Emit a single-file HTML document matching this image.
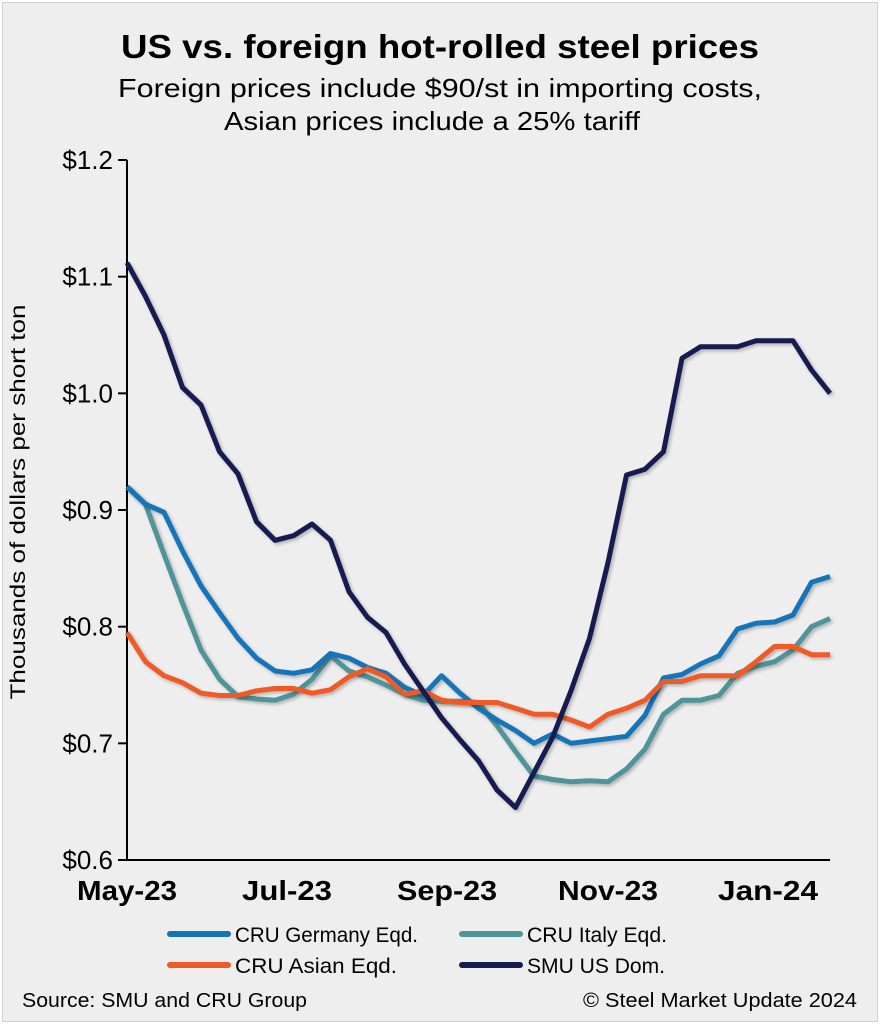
<!DOCTYPE html>
<html><head><meta charset="utf-8"><style>
html,body{margin:0;padding:0;background:#fff}
#wrap{position:absolute;left:2px;top:2px;width:874px;height:1018px;background:#eeeeee;border:1px solid #cfcfcf}
svg{position:absolute;left:0;top:0}
text{font-family:"Liberation Sans",Arial,sans-serif}
</style></head><body>
<div id="wrap"></div>
<svg id="chart" width="880" height="1024">
<defs><filter id="sh" x="-5%" y="-5%" width="110%" height="110%"><feDropShadow dx="2" dy="2" stdDeviation="1.5" flood-color="#000" flood-opacity="0.25"/></filter></defs>
<text x="440" y="58" text-anchor="middle" font-size="33" font-weight="bold" fill="#000" textLength="638" lengthAdjust="spacingAndGlyphs">US vs. foreign hot-rolled steel prices</text>
<text x="440" y="97" text-anchor="middle" font-size="26" fill="#000" textLength="644" lengthAdjust="spacingAndGlyphs">Foreign prices include $90/st in importing costs,</text>
<text x="432" y="130" text-anchor="middle" font-size="26" fill="#000" textLength="416" lengthAdjust="spacingAndGlyphs">Asian prices include a 25% tariff</text>
<text transform="translate(25,502) rotate(-90)" text-anchor="middle" font-size="21" fill="#000" textLength="395" lengthAdjust="spacingAndGlyphs">Thousands of dollars per short ton</text>
<g id="yaxis"></g><g id="xaxis"></g><g id="series"></g>
<g>
<line x1="170" y1="934" x2="228" y2="934" stroke="#1474b8" stroke-width="6" stroke-linecap="round"/>
<text x="235" y="942" font-size="21" textLength="183" lengthAdjust="spacingAndGlyphs">CRU Germany Eqd.</text>
<line x1="462" y1="934" x2="520" y2="934" stroke="#4f9499" stroke-width="6" stroke-linecap="round"/>
<text x="527" y="942" font-size="21" textLength="140" lengthAdjust="spacingAndGlyphs">CRU Italy Eqd.</text>
<line x1="170" y1="965" x2="228" y2="965" stroke="#f05a28" stroke-width="6" stroke-linecap="round"/>
<text x="235" y="973" font-size="21" textLength="162" lengthAdjust="spacingAndGlyphs">CRU Asian Eqd.</text>
<line x1="462" y1="965" x2="520" y2="965" stroke="#151c4f" stroke-width="6" stroke-linecap="round"/>
<text x="527" y="973" font-size="21" textLength="138" lengthAdjust="spacingAndGlyphs">SMU US Dom.</text>
</g>
<text x="22" y="1007" font-size="20" textLength="285" lengthAdjust="spacingAndGlyphs">Source: SMU and CRU Group</text>
<text x="857" y="1007" font-size="20" text-anchor="end" textLength="274" lengthAdjust="spacingAndGlyphs">© Steel Market Update 2024</text>
</svg>
<script>
const xTickLabels=["May-23","Jul-23","Sep-23","Nov-23","Jan-24"];
const xTickIndex=[0,8.65,17.3,26,34.65];
const yTicks=[0.6,0.7,0.8,0.9,1.0,1.1,1.2];
const yTickLabels=["$0.6","$0.7","$0.8","$0.9","$1.0","$1.1","$1.2"];
const germany=[0.92,0.905,0.898,0.865,0.835,0.812,0.79,0.773,0.762,0.76,0.763,0.777,0.773,0.765,0.76,0.748,0.741,0.758,0.743,0.73,0.72,0.711,0.70,0.708,0.70,0.702,0.704,0.706,0.724,0.756,0.759,0.768,0.775,0.798,0.803,0.804,0.81,0.838,0.843];
const italy=[0.92,0.905,0.862,0.82,0.78,0.755,0.74,0.738,0.737,0.742,0.755,0.775,0.762,0.757,0.75,0.742,0.737,0.736,0.736,0.735,0.715,0.693,0.672,0.669,0.667,0.668,0.667,0.678,0.695,0.725,0.737,0.737,0.741,0.76,0.766,0.77,0.78,0.80,0.807];
const asian=[0.795,0.77,0.758,0.752,0.743,0.741,0.741,0.745,0.747,0.747,0.743,0.746,0.757,0.764,0.757,0.742,0.745,0.737,0.735,0.735,0.735,0.73,0.725,0.725,0.72,0.714,0.725,0.73,0.737,0.753,0.753,0.758,0.758,0.758,0.77,0.783,0.783,0.776,0.776];
const smu=[1.112,1.083,1.05,1.005,0.99,0.95,0.931,0.89,0.874,0.878,0.888,0.874,0.83,0.808,0.795,0.768,0.745,0.722,0.703,0.685,0.66,0.645,0.675,0.705,0.745,0.79,0.855,0.93,0.935,0.95,1.03,1.04,1.04,1.04,1.045,1.045,1.045,1.02,1.0];
const xLabelWidths=[100,90,100,100,100];
const NS="http://www.w3.org/2000/svg";
const x0=127,x1=830,yTop=160,yBot=860,yMin=0.6,yMax=1.2;
const n=germany.length;
function xs(i){return x0+(x1-x0)*i/(n-1);}
function ys(v){return yBot-(v-yMin)/(yMax-yMin)*(yBot-yTop);}
function mk(tag,attrs,parent){const e=document.createElementNS(NS,tag);for(const k in attrs)e.setAttribute(k,attrs[k]);parent.appendChild(e);return e;}
const ya=document.getElementById('yaxis');
const yl=mk('line',{x1:x0,y1:yTop,x2:x0,y2:yBot,stroke:'#000','stroke-width':2},ya);


yTicks.forEach((t,k)=>{
  const tk=mk('line',{x1:x0-9,y1:ys(t),x2:x0,y2:ys(t),stroke:'#000','stroke-width':2},ya);
  
  
  const tx=mk('text',{x:113,y:ys(t)+9,'text-anchor':'end','font-size':26},ya);
  tx.textContent=yTickLabels[k];
  
  
});
const xa=document.getElementById('xaxis');
const xl=mk('line',{x1:x0,y1:yBot,x2:x1,y2:yBot,stroke:'#000','stroke-width':2},xa);


xTickLabels.forEach((l,k)=>{
  const tx=mk('text',{x:xs(xTickIndex[k]),y:900,'text-anchor':'middle','font-size':28,'font-weight':'bold',textLength:xLabelWidths[k],lengthAdjust:'spacingAndGlyphs'},xa);
  tx.textContent=l;
  
  
});
const sg=document.getElementById('series');
[[italy,'#4f9499','series-italy'],[germany,'#1474b8','series-germany'],[asian,'#f05a28','series-asian'],[smu,'#151c4f','series-smu']].forEach(([d,c,name])=>{
  const p=mk('polyline',{points:d.map((v,i)=>xs(i).toFixed(1)+','+ys(v).toFixed(1)).join(' '),fill:'none',stroke:c,'stroke-width':5,'stroke-linejoin':'round',filter:'url(#sh)'},sg);
  
  
});
</script>
</body></html>
